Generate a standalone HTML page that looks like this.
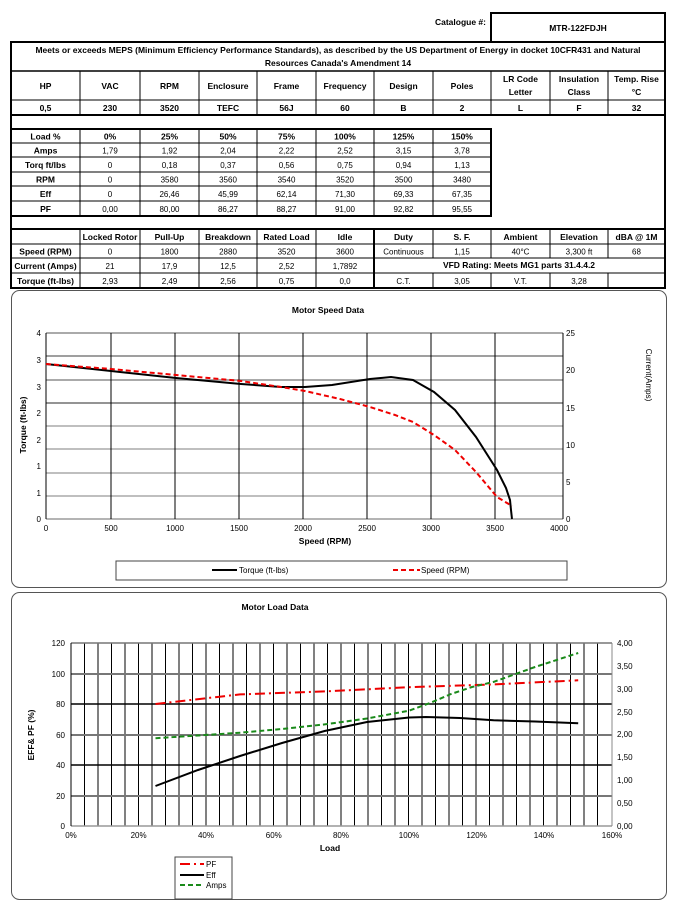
<!DOCTYPE html>
<html><head><meta charset="utf-8"><style>
html,body{margin:0;padding:0;background:#fff;width:677px;height:904px;overflow:hidden}
svg{display:block}
text{font-family:"Liberation Sans",sans-serif;font-size:8.5px;font-weight:bold;fill:#000}
.c{text-anchor:middle}
.r{text-anchor:end}
.n{font-weight:normal;font-size:8px}
</style></head><body>
<svg width="677" height="904" viewBox="0 0 677 904" xmlns="http://www.w3.org/2000/svg">
<!-- Catalogue -->
<text x="486" y="25" class="r">Catalogue #:</text>
<rect x="491" y="13" width="174" height="29" fill="none" stroke="#000" stroke-width="2"/>
<text x="578" y="31" class="c">MTR-122FDJH</text>

<!-- main table frame -->
<g stroke="#000" fill="none">
<rect x="11" y="42" width="654" height="246" stroke-width="2"/>
<line x1="11" y1="71" x2="665" y2="71" stroke-width="1.5"/>
<line x1="11" y1="100" x2="665" y2="100"/>
<line x1="11" y1="115" x2="665" y2="115" stroke-width="2"/>
<g stroke-width="1">
<line x1="80" y1="71" x2="80" y2="115"/><line x1="140" y1="71" x2="140" y2="115"/><line x1="199" y1="71" x2="199" y2="115"/><line x1="257" y1="71" x2="257" y2="115"/><line x1="316" y1="71" x2="316" y2="115"/><line x1="374" y1="71" x2="374" y2="115"/><line x1="433" y1="71" x2="433" y2="115"/><line x1="491" y1="71" x2="491" y2="115"/><line x1="550" y1="71" x2="550" y2="115"/><line x1="608" y1="71" x2="608" y2="115"/>
</g>
<!-- load table -->
<rect x="11" y="129" width="480" height="87" stroke-width="2"/>
<line x1="11" y1="143" x2="491" y2="143"/><line x1="11" y1="157" x2="491" y2="157"/><line x1="11" y1="172" x2="491" y2="172"/><line x1="11" y1="186" x2="491" y2="186"/><line x1="11" y1="201" x2="491" y2="201"/>
<line x1="80" y1="129" x2="80" y2="216"/><line x1="140" y1="129" x2="140" y2="216"/><line x1="199" y1="129" x2="199" y2="216"/><line x1="257" y1="129" x2="257" y2="216"/><line x1="316" y1="129" x2="316" y2="216"/><line x1="374" y1="129" x2="374" y2="216"/><line x1="433" y1="129" x2="433" y2="216"/>
<!-- bottom table -->
<line x1="11" y1="229" x2="665" y2="229" stroke-width="2"/>
<line x1="11" y1="244" x2="665" y2="244"/><line x1="11" y1="258" x2="665" y2="258"/><line x1="11" y1="273" x2="665" y2="273"/>
<line x1="80" y1="229" x2="80" y2="288"/><line x1="140" y1="229" x2="140" y2="288"/><line x1="199" y1="229" x2="199" y2="288"/><line x1="257" y1="229" x2="257" y2="288"/><line x1="316" y1="229" x2="316" y2="288"/>
<line x1="374" y1="229" x2="374" y2="288" stroke-width="2"/>
<line x1="433" y1="229" x2="433" y2="258"/><line x1="491" y1="229" x2="491" y2="258"/><line x1="550" y1="229" x2="550" y2="258"/><line x1="608" y1="229" x2="608" y2="258"/>
<line x1="433" y1="273" x2="433" y2="288"/><line x1="491" y1="273" x2="491" y2="288"/><line x1="550" y1="273" x2="550" y2="288"/><line x1="608" y1="273" x2="608" y2="288"/>
</g>

<text x="338" y="53" class="c">Meets or exceeds MEPS (Minimum Efficiency Performance Standards), as described by the US Department of Energy in docket 10CFR431 and Natural</text>
<text x="338" y="66" class="c">Resources Canada's Amendment 14</text>

<g class="c">
<text x="45.5" y="89" class="c">HP</text><text x="110" y="89" class="c">VAC</text><text x="169.5" y="89" class="c">RPM</text><text x="228" y="89" class="c">Enclosure</text><text x="286.5" y="89" class="c">Frame</text><text x="345" y="89" class="c">Frequency</text><text x="403.5" y="89" class="c">Design</text><text x="462" y="89" class="c">Poles</text>
<text x="520.5" y="82" class="c">LR Code</text><text x="520.5" y="95" class="c">Letter</text>
<text x="579" y="82" class="c">Insulation</text><text x="579" y="95" class="c">Class</text>
<text x="636.5" y="82" class="c">Temp. Rise</text><text x="636.5" y="95" class="c">°C</text>
<text x="45.5" y="111" class="c">0,5</text><text x="110" y="111" class="c">230</text><text x="169.5" y="111" class="c">3520</text><text x="228" y="111" class="c">TEFC</text><text x="286.5" y="111" class="c">56J</text><text x="345" y="111" class="c">60</text><text x="403.5" y="111" class="c">B</text><text x="462" y="111" class="c">2</text><text x="520.5" y="111" class="c">L</text><text x="579" y="111" class="c">F</text><text x="636.5" y="111" class="c">32</text>
</g>

<!-- load rows -->
<text x="45.5" y="139.5" class="c">Load %</text><text x="110" y="139.5" class="c">0%</text><text x="169.5" y="139.5" class="c">25%</text><text x="228" y="139.5" class="c">50%</text><text x="286.5" y="139.5" class="c">75%</text><text x="345" y="139.5" class="c">100%</text><text x="403.5" y="139.5" class="c">125%</text><text x="462" y="139.5" class="c">150%</text>
<text x="45.5" y="153.5" class="c">Amps</text><text x="110" y="153.5" class="c n">1,79</text><text x="169.5" y="153.5" class="c n">1,92</text><text x="228" y="153.5" class="c n">2,04</text><text x="286.5" y="153.5" class="c n">2,22</text><text x="345" y="153.5" class="c n">2,52</text><text x="403.5" y="153.5" class="c n">3,15</text><text x="462" y="153.5" class="c n">3,78</text>
<text x="45.5" y="168" class="c">Torq ft/lbs</text><text x="110" y="168" class="c n">0</text><text x="169.5" y="168" class="c n">0,18</text><text x="228" y="168" class="c n">0,37</text><text x="286.5" y="168" class="c n">0,56</text><text x="345" y="168" class="c n">0,75</text><text x="403.5" y="168" class="c n">0,94</text><text x="462" y="168" class="c n">1,13</text>
<text x="45.5" y="182.5" class="c">RPM</text><text x="110" y="182.5" class="c n">0</text><text x="169.5" y="182.5" class="c n">3580</text><text x="228" y="182.5" class="c n">3560</text><text x="286.5" y="182.5" class="c n">3540</text><text x="345" y="182.5" class="c n">3520</text><text x="403.5" y="182.5" class="c n">3500</text><text x="462" y="182.5" class="c n">3480</text>
<text x="45.5" y="197" class="c">Eff</text><text x="110" y="197" class="c n">0</text><text x="169.5" y="197" class="c n">26,46</text><text x="228" y="197" class="c n">45,99</text><text x="286.5" y="197" class="c n">62,14</text><text x="345" y="197" class="c n">71,30</text><text x="403.5" y="197" class="c n">69,33</text><text x="462" y="197" class="c n">67,35</text>
<text x="45.5" y="212" class="c">PF</text><text x="110" y="212" class="c n">0,00</text><text x="169.5" y="212" class="c n">80,00</text><text x="228" y="212" class="c n">86,27</text><text x="286.5" y="212" class="c n">88,27</text><text x="345" y="212" class="c n">91,00</text><text x="403.5" y="212" class="c n">92,82</text><text x="462" y="212" class="c n">95,55</text>

<!-- bottom table text -->
<text x="110" y="240" class="c">Locked Rotor</text><text x="169.5" y="240" class="c">Pull-Up</text><text x="228" y="240" class="c">Breakdown</text><text x="286.5" y="240" class="c">Rated Load</text><text x="345" y="240" class="c">Idle</text><text x="403.5" y="240" class="c">Duty</text><text x="462" y="240" class="c">S. F.</text><text x="520.5" y="240" class="c">Ambient</text><text x="579" y="240" class="c">Elevation</text><text x="636.5" y="240" class="c">dBA @ 1M</text>
<text x="45.5" y="254.5" class="c">Speed (RPM)</text><text x="110" y="254.5" class="c n">0</text><text x="169.5" y="254.5" class="c n">1800</text><text x="228" y="254.5" class="c n">2880</text><text x="286.5" y="254.5" class="c n">3520</text><text x="345" y="254.5" class="c n">3600</text><text x="403.5" y="254.5" class="c n">Continuous</text><text x="462" y="254.5" class="c n">1,15</text><text x="520.5" y="254.5" class="c n">40°C</text><text x="579" y="254.5" class="c n">3,300 ft</text><text x="636.5" y="254.5" class="c n">68</text>
<text x="45.5" y="269" class="c">Current (Amps)</text><text x="110" y="269" class="c n">21</text><text x="169.5" y="269" class="c n">17,9</text><text x="228" y="269" class="c n">12,5</text><text x="286.5" y="269" class="c n">2,52</text><text x="345" y="269" class="c n">1,7892</text><text x="519" y="268" class="c">VFD Rating: Meets MG1 parts 31.4.4.2</text>
<text x="45.5" y="284" class="c">Torque (ft-lbs)</text><text x="110" y="284" class="c n">2,93</text><text x="169.5" y="284" class="c n">2,49</text><text x="228" y="284" class="c n">2,56</text><text x="286.5" y="284" class="c n">0,75</text><text x="345" y="284" class="c n">0,0</text><text x="403.5" y="284" class="c n">C.T.</text><text x="462" y="284" class="c n">3,05</text><text x="520.5" y="284" class="c n">V.T.</text><text x="579" y="284" class="c n">3,28</text>

<!-- Chart 1 -->
<rect x="11.5" y="290.5" width="655" height="297" rx="8" fill="none" stroke="#555" stroke-width="1"/>
<text x="328" y="313" class="c">Motor Speed Data</text>
<g stroke-width="1.2">
<line x1="46" y1="333" x2="563" y2="333" stroke="#777"/>
<line x1="46" y1="356" x2="563" y2="356" stroke="#666"/>
<line x1="46" y1="380" x2="563" y2="380" stroke="#aaa" stroke-width="2"/>
<line x1="46" y1="403" x2="563" y2="403" stroke="#555"/>
<line x1="46" y1="426" x2="563" y2="426" stroke="#999"/>
<line x1="46" y1="449" x2="563" y2="449" stroke="#999"/>
<line x1="46" y1="473" x2="563" y2="473" stroke="#999"/>
<line x1="46" y1="496" x2="563" y2="496" stroke="#999"/>
<line x1="46" y1="519" x2="563" y2="519" stroke="#888"/>
</g>
<g stroke="#000" stroke-width="1">
<line x1="46" y1="333" x2="46" y2="519"/><line x1="111" y1="333" x2="111" y2="519"/><line x1="175" y1="333" x2="175" y2="519"/><line x1="239" y1="333" x2="239" y2="519"/><line x1="303" y1="333" x2="303" y2="519"/><line x1="367" y1="333" x2="367" y2="519"/><line x1="431" y1="333" x2="431" y2="519"/><line x1="495" y1="333" x2="495" y2="519"/><line x1="563" y1="333" x2="563" y2="519"/>
</g>
<g class="n">
<text x="41" y="336" class="r n">4</text><text x="41" y="363" class="r n">3</text><text x="41" y="390" class="r n">3</text><text x="41" y="416" class="r n">2</text><text x="41" y="443" class="r n">2</text><text x="41" y="469" class="r n">1</text><text x="41" y="496" class="r n">1</text><text x="41" y="522" class="r n">0</text>
<text x="566" y="336" class="n">25</text><text x="566" y="373" class="n">20</text><text x="566" y="411" class="n">15</text><text x="566" y="448" class="n">10</text><text x="566" y="485" class="n">5</text><text x="566" y="522" class="n">0</text>
<text x="46" y="531" class="c n">0</text><text x="111" y="531" class="c n">500</text><text x="175" y="531" class="c n">1000</text><text x="239" y="531" class="c n">1500</text><text x="303" y="531" class="c n">2000</text><text x="367" y="531" class="c n">2500</text><text x="431" y="531" class="c n">3000</text><text x="495" y="531" class="c n">3500</text><text x="559" y="531" class="c n">4000</text>
</g>
<text x="325" y="544" class="c">Speed (RPM)</text>
<text transform="translate(26,425) rotate(-90)" class="c">Torque (ft-lbs)</text>
<text transform="translate(646,375) rotate(90)" class="c n">Current(Amps)</text>
<polyline fill="none" stroke="#000" stroke-width="2" points="46,364 111,371 176,378 241,384 281,387 305,387 332,385 370,379 391,377 413,380 434,392 455,410 476,437 497,470 506,488 510,500 511,510 512,519"/>
<polyline fill="none" stroke="#e00" stroke-width="2" stroke-dasharray="5,3" points="46,364 111,369 176,375 241,381 281,387 305,391 340,399 370,407 395,415 413,422 434,435 455,450 476,472 497,497 512,506"/>
<rect x="116" y="561" width="451" height="19" fill="#fff" stroke="#444"/>
<line x1="212" y1="570" x2="237" y2="570" stroke="#000" stroke-width="2"/>
<text x="239" y="573" class="n">Torque (ft-lbs)</text>
<line x1="393" y1="570" x2="420" y2="570" stroke="#e00" stroke-width="2" stroke-dasharray="5,3"/>
<text x="421" y="573" class="n">Speed (RPM)</text>

<!-- Chart 2 -->
<rect x="11.5" y="592.5" width="655" height="307" rx="8" fill="none" stroke="#555" stroke-width="1"/>
<text x="275" y="610" class="c">Motor Load Data</text>
<g stroke="#000" stroke-width="1">
<line x1="84.5" y1="643" x2="84.5" y2="826"/><line x1="98" y1="643" x2="98" y2="826"/><line x1="111.5" y1="643" x2="111.5" y2="826"/><line x1="125" y1="643" x2="125" y2="826"/><line x1="138.5" y1="643" x2="138.5" y2="826"/><line x1="152" y1="643" x2="152" y2="826"/><line x1="165.5" y1="643" x2="165.5" y2="826"/><line x1="179" y1="643" x2="179" y2="826"/><line x1="192.5" y1="643" x2="192.5" y2="826"/><line x1="206" y1="643" x2="206" y2="826"/><line x1="219.5" y1="643" x2="219.5" y2="826"/><line x1="233" y1="643" x2="233" y2="826"/><line x1="246.5" y1="643" x2="246.5" y2="826"/><line x1="260" y1="643" x2="260" y2="826"/><line x1="273.5" y1="643" x2="273.5" y2="826"/><line x1="287" y1="643" x2="287" y2="826"/><line x1="300.5" y1="643" x2="300.5" y2="826"/><line x1="314" y1="643" x2="314" y2="826"/><line x1="327.5" y1="643" x2="327.5" y2="826"/><line x1="341" y1="643" x2="341" y2="826"/><line x1="354.5" y1="643" x2="354.5" y2="826"/><line x1="368" y1="643" x2="368" y2="826"/><line x1="381.5" y1="643" x2="381.5" y2="826"/><line x1="395" y1="643" x2="395" y2="826"/><line x1="408.5" y1="643" x2="408.5" y2="826"/><line x1="422" y1="643" x2="422" y2="826"/><line x1="435.5" y1="643" x2="435.5" y2="826"/><line x1="449" y1="643" x2="449" y2="826"/><line x1="462.5" y1="643" x2="462.5" y2="826"/><line x1="476" y1="643" x2="476" y2="826"/><line x1="489.5" y1="643" x2="489.5" y2="826"/><line x1="503" y1="643" x2="503" y2="826"/><line x1="516.5" y1="643" x2="516.5" y2="826"/><line x1="530" y1="643" x2="530" y2="826"/><line x1="543.5" y1="643" x2="543.5" y2="826"/><line x1="557" y1="643" x2="557" y2="826"/><line x1="570.5" y1="643" x2="570.5" y2="826"/><line x1="584" y1="643" x2="584" y2="826"/><line x1="597.5" y1="643" x2="597.5" y2="826"/>
</g>
<g stroke-width="1.5">
<line x1="71" y1="643" x2="612" y2="643" stroke="#777"/>
<line x1="71" y1="674" x2="612" y2="674" stroke="#777" stroke-width="2"/>
<line x1="71" y1="704" x2="612" y2="704" stroke="#000"/>
<line x1="71" y1="735" x2="612" y2="735" stroke="#777" stroke-width="2"/>
<line x1="71" y1="765" x2="612" y2="765" stroke="#000"/>
<line x1="71" y1="796" x2="612" y2="796" stroke="#777" stroke-width="2"/>
<line x1="71" y1="826" x2="612" y2="826" stroke="#999"/>
<line x1="71" y1="643" x2="71" y2="826" stroke="#000" stroke-width="1"/>
<line x1="612" y1="643" x2="612" y2="826" stroke="#888" stroke-width="1"/>
</g>
<text x="65" y="646" class="r n">120</text><text x="65" y="677" class="r n">100</text><text x="65" y="707" class="r n">80</text><text x="65" y="738" class="r n">60</text><text x="65" y="768" class="r n">40</text><text x="65" y="799" class="r n">20</text><text x="65" y="829" class="r n">0</text>
<text x="617" y="646" class="n">4,00</text><text x="617" y="669" class="n">3,50</text><text x="617" y="692" class="n">3,00</text><text x="617" y="715" class="n">2,50</text><text x="617" y="737" class="n">2,00</text><text x="617" y="760" class="n">1,50</text><text x="617" y="783" class="n">1,00</text><text x="617" y="806" class="n">0,50</text><text x="617" y="829" class="n">0,00</text>
<text x="71" y="838" class="c n">0%</text><text x="138.6" y="838" class="c n">20%</text><text x="206" y="838" class="c n">40%</text><text x="273.8" y="838" class="c n">60%</text><text x="341" y="838" class="c n">80%</text><text x="409" y="838" class="c n">100%</text><text x="476.6" y="838" class="c n">120%</text><text x="544" y="838" class="c n">140%</text><text x="612" y="838" class="c n">160%</text>
<text x="330" y="851" class="c">Load</text>
<text transform="translate(34,735) rotate(-90)" class="c">EFF&amp; PF (%)</text>
<polyline fill="none" stroke="#e00" stroke-width="2" stroke-dasharray="10,4,2,4" points="155.5,704 240,694.4 324.6,691.4 409.1,687.2 493.6,684.4 578.2,680.3"/>
<polyline fill="none" stroke="#000" stroke-width="2" points="155.5,786 198,770 240,756 282,743 324.6,731 367,722 409.1,717.5 426,717 460,718 493.6,720.3 535,721.5 578.2,723.3"/>
<polyline fill="none" stroke="#1a8a1a" stroke-width="2" stroke-dasharray="5,3" points="155.5,738.2 198,735.5 240,732.7 282,729 324.6,724.4 367,718.5 409.1,710.7 430,703 451,694 472,687 493.6,681.9 535,667 578.2,653"/>
<rect x="175" y="857" width="57" height="42" fill="#fff" stroke="#444"/>
<line x1="180" y1="864" x2="204" y2="864" stroke="#e00" stroke-width="2" stroke-dasharray="10,4,2,4"/>
<text x="206" y="867" class="n">PF</text>
<line x1="180" y1="875" x2="204" y2="875" stroke="#000" stroke-width="2"/>
<text x="206" y="878" class="n">Eff</text>
<line x1="180" y1="885" x2="204" y2="885" stroke="#1a8a1a" stroke-width="2" stroke-dasharray="5,3"/>
<text x="206" y="888" class="n">Amps</text>
</svg>
</body></html>
